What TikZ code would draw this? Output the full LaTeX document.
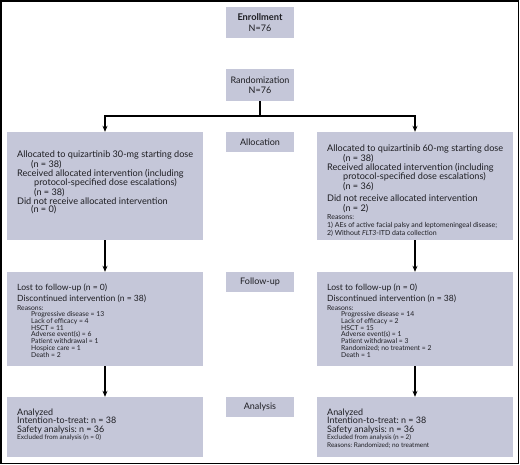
\documentclass[tikz,border=0pt]{standalone}
\usepackage{fontspec}
\setmainfont{Lato}
\usetikzlibrary{arrows.meta}
\definecolor{boxfill}{RGB}{197,199,217}
\definecolor{txt}{RGB}{30,30,35}
\newlength\wtmp
\newcommand\fitsize[3]{\settowidth{\wtmp}{\fontsize{10}{12}\selectfont #3}\pgfmathsetmacro#1{10*#2/\wtmp}}
\newcommand\ind{\hspace*{14pt}}
\newcommand\bodytext[1]{\parbox[t]{195pt}{\raggedright\frenchspacing\color{txt}#1}}
\frenchspacing
\begin{document}
\fitsize\szA{176}{Allocated to quizartinib 30-mg starting dose}%
\fitsize\szB{129}{Discontinued intervention (n = 38)}%
\fitsize\szC{73}{Progressive disease = 13}%
\fitsize\szD{170}{1) AEs of active facial palsy and leptomeningeal disease;}%
\fitsize\szE{99}{Intention-to-treat: n = 38}%
\fitsize\szF{84}{Excluded from analysis (n = 0)}%
\fitsize\szL{59}{Randomization}%
\fitsize\szK{45}{\bfseries Enrollment}%
\begin{tikzpicture}[x=1pt,y=-1pt,
  box/.style={fill=boxfill,draw=none,inner sep=0,minimum width=196pt},
  lab/.style={fill=boxfill,draw=none,inner sep=0,minimum width=68pt,minimum height=20pt,font=\fontsize{\szL}{10.3}\selectfont,text=txt},
  body/.style={anchor=base west,inner sep=0},
  conn/.style={line width=1.1pt,draw=black},
  arr/.style={conn,-{Stealth[length=6pt,width=5pt]}}]
\useasboundingbox (0,0) rectangle (520,465);
\draw[line width=1.6pt] (1.3,1.3) rectangle (518.5,463.5);
% top boxes
\node[lab,minimum height=31pt,align=center] (enr) at (260,22.5) {{\fontsize{\szK}{10.3}\selectfont\bfseries Enrollment}\\N=76};
\node[lab,minimum height=32pt,align=center] (rand) at (260,85) {Randomization\\N=76};
% side labels
\node[lab] (lalloc) at (260,142) {Allocation};
\node[lab] (lfol) at (260,282) {Follow-up};
\node[lab] (lana) at (260,407) {Analysis};
% boxes
\node[box,minimum height=108pt] (al) at (105,186) {};
\node[box,minimum height=108pt] (ar) at (415,186) {};
\node[box,minimum height=94pt] (fl) at (105,319) {};
\node[box,minimum height=94pt] (fr) at (415,319) {};
\node[box,minimum height=60pt] (nl) at (105,427) {};
\node[box,minimum height=60pt] (nr) at (415,427) {};
% texts
\node[body] (tal) at (17,151) {\bodytext{\fontsize{\szA}{8.6}\selectfont Allocated to quizartinib 30-mg starting dose\\
\ind(n = 38)\\
Received allocated intervention (including\\
\ind\hspace*{3pt}protocol-specified dose escalations)\\
\ind\hspace*{3pt}(n = 38)\\
Did not receive allocated intervention\\
\ind(n = 0)}};
\node[body] (tar) at (327,145) {\bodytext{\fontsize{\szA}{9.4}\selectfont Allocated to quizartinib 60-mg starting dose\\
\ind\hspace*{2pt}(n = 38)\\
Received allocated intervention (including\\
\ind\hspace*{2pt}protocol-specified dose escalations)\\
\ind\hspace*{2pt}(n = 36)\\[3pt]
Did not receive allocated intervention\\
\ind\hspace*{2pt}(n = 2)\par
\fontsize{\szD}{8}\selectfont Reasons:\\
1) AEs of active facial palsy and leptomeningeal disease;\\
2) Without \textit{FLT3}-ITD data collection}};
\node[body] (tfl) at (17,284) {\bodytext{\fontsize{\szB}{11}\selectfont Lost to follow-up (n = 0)\\
Discontinued intervention (n = 38)\par
\fontsize{\szC}{6.7}\selectfont\vspace*{1.8pt}Reasons:\\
\ind Progressive disease = 13\\
\ind Lack of efficacy = 4\\
\ind HSCT = 11\\
\ind Adverse event(s) = 6\\
\ind Patient withdrawal = 1\\
\ind Hospice care = 1\\
\ind Death = 2}};
\node[body] (tfr) at (327,284) {\bodytext{\fontsize{\szB}{11}\selectfont Lost to follow-up (n = 0)\\
Discontinued intervention (n = 38)\par
\fontsize{\szC}{6.7}\selectfont\vspace*{1.8pt}Reasons:\\
\ind Progressive disease = 14\\
\ind Lack of efficacy = 2\\
\ind HSCT = 15\\
\ind Adverse event(s) = 1\\
\ind Patient withdrawal = 3\\
\ind Randomized; no treatment = 2\\
\ind Death = 1}};
\node[body] (tnl) at (17,408.5) {\bodytext{\fontsize{\szE}{8.5}\selectfont Analyzed\\
Intention-to-treat: n = 38\\
Safety analysis: n = 36\par
\fontsize{\szF}{7.5}\selectfont Excluded from analysis (n = 0)}};
\node[body] (tnr) at (327,408.5) {\bodytext{\fontsize{\szE}{8.5}\selectfont Analyzed\\
Intention-to-treat: n = 38\\
Safety analysis: n = 36\par
\fontsize{\szF}{7.5}\selectfont Excluded from analysis (n = 2)\\
Reasons: Randomized; no treatment}};
% connectors
\coordinate (split) at (260,116);
\draw[conn] (rand.south) -- (split);
\draw[arr] (split) -| (al.north);
\draw[arr] (split) -| (ar.north);
\draw[arr] (al.south) -- (fl.north);
\draw[arr] (ar.south) -- (fr.north);
\draw[arr] (fl.south) -- (nl.north);
\draw[arr] (fr.south) -- (nr.north);
\end{tikzpicture}
\end{document}
